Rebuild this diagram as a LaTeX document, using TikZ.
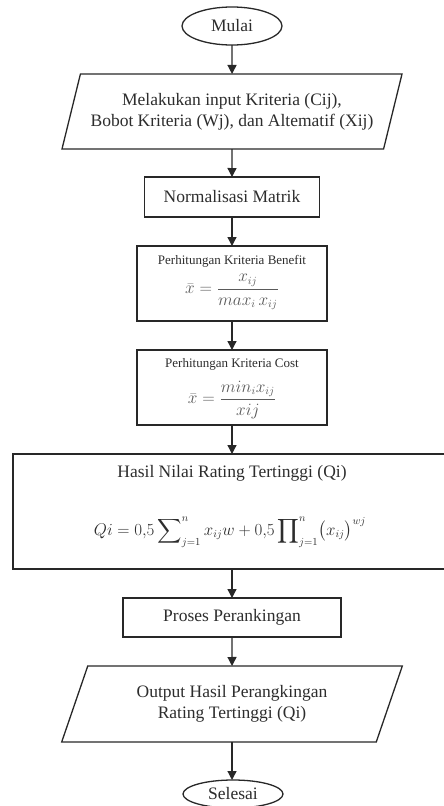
\documentclass[tikz,border=0pt]{standalone}
\usepackage{fontspec}
\usepackage{amsmath}
\usepackage{graphicx}
\setmainfont{Liberation Serif}
\usetikzlibrary{shapes.geometric,arrows.meta,calc}
\definecolor{linecol}{RGB}{40,40,40}
\definecolor{textcol}{RGB}{45,45,45}
\definecolor{mathcol}{RGB}{90,90,90}
\begin{document}
\begin{tikzpicture}[x=1pt,y=-1pt,
  line width=1.3pt,
  every node/.style={inner sep=0pt, outer sep=0pt},
  box/.style={draw=linecol, rectangle},
  term/.style={draw=linecol, ellipse, minimum width=100pt, minimum height=38pt},
  io/.style={draw=linecol, trapezium, trapezium left angle=65, trapezium right angle=115,
             trapezium stretches=true, minimum width=341pt, minimum height=75pt, align=center},
  arr/.style={draw=linecol, -{Triangle[length=9pt,width=9pt]}},
  main/.style={font=\fontsize{17.5}{21}\selectfont, text=textcol},
  small/.style={font=\fontsize{13}{15}\selectfont, text=textcol},
  formula/.style={font=\fontsize{16}{19}\selectfont, text=mathcol},
  bigformula/.style={font=\fontsize{16}{19}\selectfont, text=textcol},
]
\useasboundingbox (0,0) rectangle (444,806);
\fill[white] (0,0) rectangle (444,806);
\clip (0,0) rectangle (444,806);

\node[term,main] (mulai) at (232,26) {Mulai};
\node[io,main] (input) at (232,111.5) {Melakukan input Kriteria (Cij),\\Bobot Kriteria (Wj), dan Altematif (Xij)};
\node[box,main,minimum width=175pt,minimum height=40pt] (norm) at (232,197) {Normalisasi Matrik};

\node[box,minimum width=190pt,minimum height=75pt] (ben) at (232,283.5) {};
\node[small] (bent) at (232,261) {Perhitungan Kriteria Benefit};
\node[formula] (benf) at (232,292) {$\bar{x}=\dfrac{x_{ij}}{max_i\,x_{ij}}$};

\node[box,minimum width=190pt,minimum height=75pt] (cost) at (232,387.5) {};
\node[small] (costt) at (232,364) {Perhitungan Kriteria Cost};
\node[formula] (costf) at (232,400) {$\bar{x}=\dfrac{min_i x_{ij}}{xij}$};

\node[box,minimum width=438pt,minimum height=115pt] (hasil) at (232,511.5) {};
\node[main] (hasilt) at (232,473) {Hasil Nilai Rating Tertinggi (Qi)};
\node[bigformula] (hasilf) at (230,532) {\scalebox{0.98}{$Qi = 0{,}5\displaystyle\sum\nolimits_{j=1}^{n} x_{ij}w + 0{,}5\prod\nolimits_{j=1}^{n}\bigl(x_{ij}\bigr)^{wj}$}};

\node[box,main,minimum width=218pt,minimum height=39pt] (proses) at (232,617.5) {Proses Perankingan};
\node[io,main,minimum height=76pt] (output) at (232,704) {Output Hasil Perangkingan\\Rating Tertinggi (Qi)};
\node[term,main,minimum height=28pt] (selesai) at (233,794) {Selesai};

\draw[arr] (mulai.south) -- (input.north);
\draw[arr] (input.south) -- (norm.north);
\draw[arr] (norm.south) -- (ben.north);
\draw[arr] (ben.south) -- (cost.north);
\draw[arr] (cost.south) -- (hasil.north);
\draw[arr] (hasil.south) -- (proses.north);
\draw[arr] (proses.south) -- (output.north);
\draw[arr] (output.south) -- (output.south |- selesai.north);
\end{tikzpicture}
\end{document}
